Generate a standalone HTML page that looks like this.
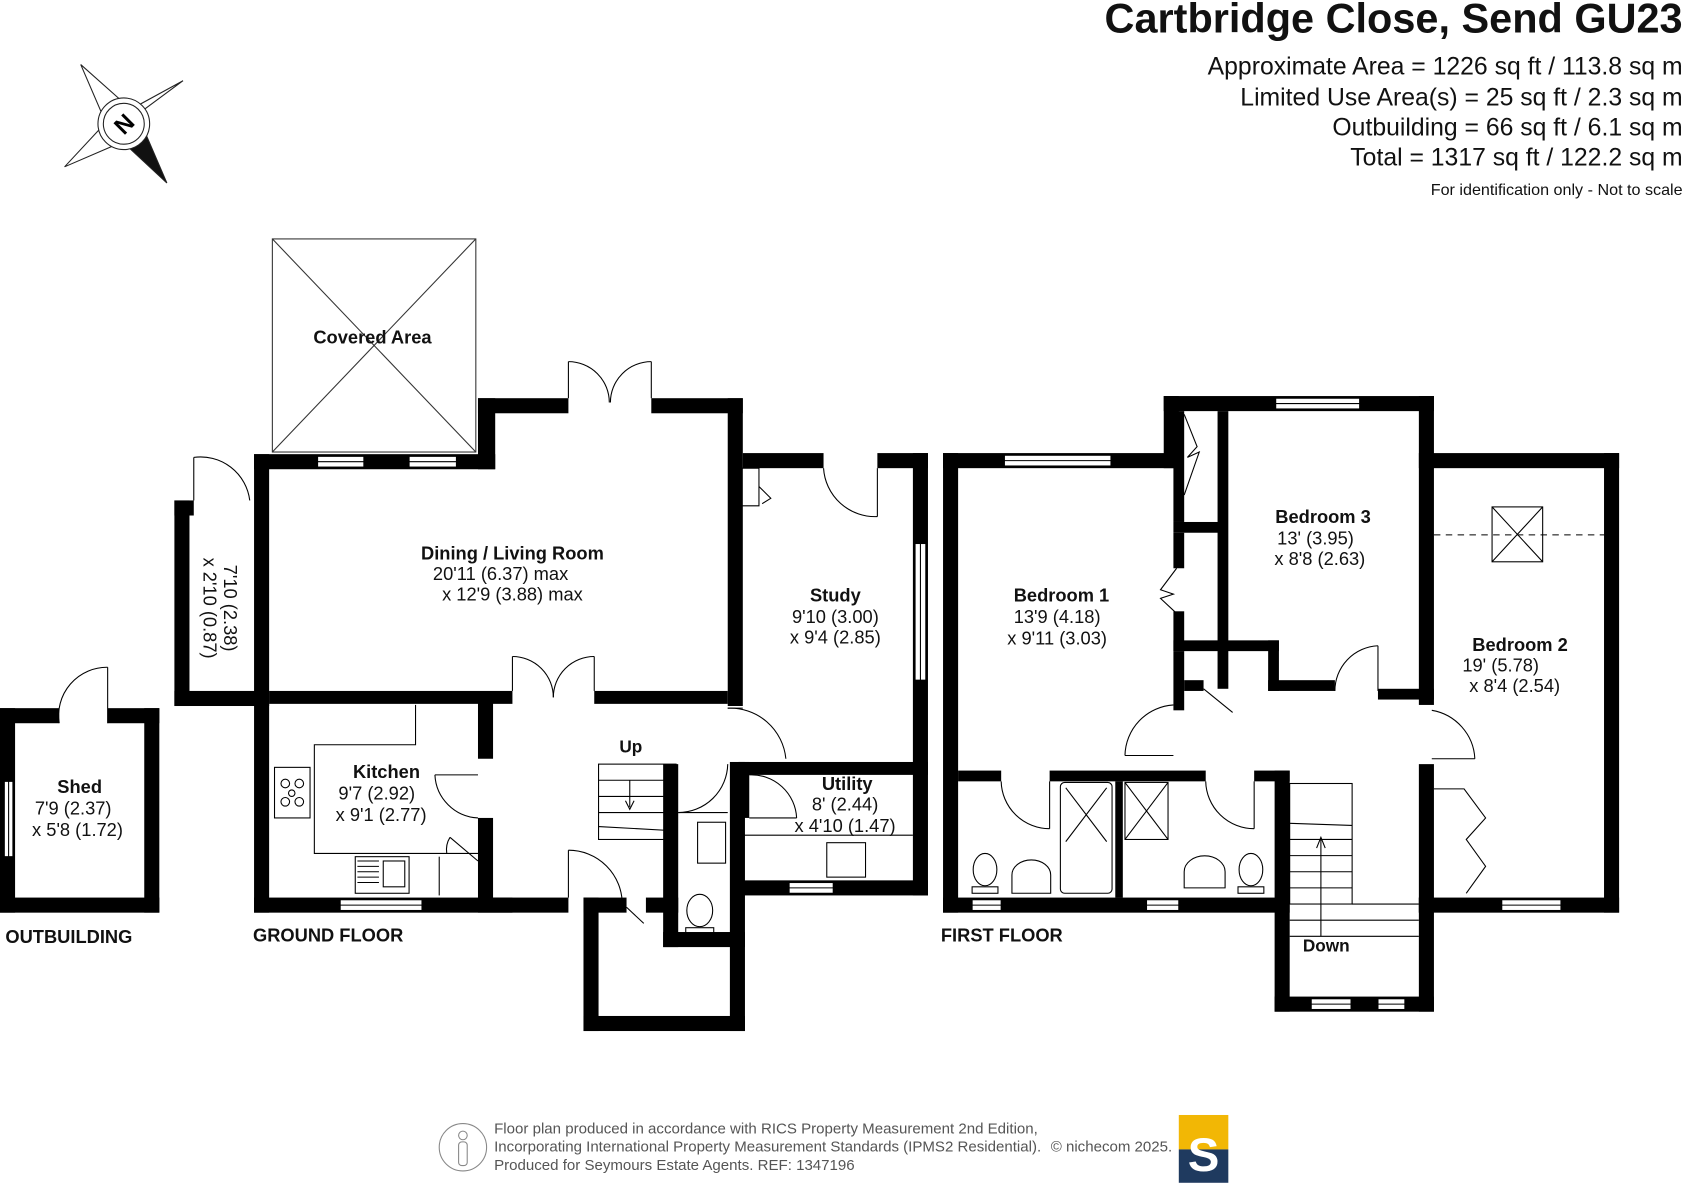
<!DOCTYPE html>
<html><head><meta charset="utf-8"><style>html,body{margin:0;padding:0;background:#fff}svg{display:block}text{font-family:"Liberation Sans",Arial,sans-serif}</style></head>
<body>
<svg width="1688" height="1200" viewBox="0 0 1568 1115" preserveAspectRatio="none" xmlns="http://www.w3.org/2000/svg">
<rect width="1568" height="1115" fill="#fff"/>
<g text-anchor="end" fill="#111">
<text x="1563" y="30" font-size="38.5" font-weight="bold">Cartbridge Close, Send GU23</text>
<text x="1563" y="69" font-size="23">Approximate Area = 1226 sq ft / 113.8 sq m</text>
<text x="1563" y="98" font-size="23">Limited Use Area(s) = 25 sq ft / 2.3 sq m</text>
<text x="1563" y="126" font-size="23">Outbuilding = 66 sq ft / 6.1 sq m</text>
<text x="1563" y="154" font-size="23">Total = 1317 sq ft / 122.2 sq m</text>
<text x="1563" y="181" font-size="15">For identification only - Not to scale</text>
</g>
<g stroke="#222" stroke-width="1" fill="#fff">
<polygon points="75,60 120,100 100,118"/>
<polygon points="170,75 128,98 112,118"/>
<polygon points="60,155 100,112 118,130"/>
<polygon points="155,170 130,112 112,130" fill="#111"/>
<circle cx="115" cy="115" r="24"/>
<circle cx="115" cy="115" r="19"/>
</g>
<text x="115" y="123" font-size="22" font-weight="bold" text-anchor="middle" transform="rotate(-45 115 115)">N</text>

<g stroke="#333" stroke-width="1" fill="none">
<rect x="253" y="222" width="189" height="198"/>
<line x1="253" y1="222" x2="442" y2="420"/><line x1="442" y1="222" x2="253" y2="420"/>
</g>

<g fill="#000">
<rect x="236" y="422" width="224" height="14"/>
<rect x="444" y="370" width="16" height="66"/>
<rect x="444" y="370" width="84" height="14"/>
<rect x="605" y="370" width="85" height="14"/>
<rect x="676" y="370" width="14" height="286"/>
<rect x="690" y="421" width="75" height="14"/>
<rect x="815" y="421" width="47" height="14"/>
<rect x="848" y="421" width="14" height="411"/>
<rect x="236" y="422" width="14" height="426"/>
<rect x="162" y="465" width="14" height="191"/>
<rect x="162" y="465" width="18" height="14"/>
<rect x="162" y="642" width="88" height="14"/>
<rect x="250" y="642" width="226" height="12"/>
<rect x="552" y="642" width="124" height="12"/>
<rect x="444" y="650" width="14" height="55"/>
<rect x="444" y="760" width="14" height="88"/>
<rect x="236" y="834" width="240" height="14"/>
<rect x="458" y="834" width="70" height="14"/>
<rect x="542" y="834" width="40" height="14"/>
<rect x="600" y="834" width="30" height="14"/>
<rect x="542" y="834" width="14" height="124"/>
<rect x="542" y="944" width="150" height="14"/>
<rect x="678" y="708" width="14" height="250"/>
<rect x="616" y="710" width="14" height="170"/>
<rect x="616" y="866" width="76" height="14"/>
<rect x="686" y="708" width="176" height="12"/>
<rect x="686" y="708" width="10" height="52"/>
<rect x="686" y="818" width="176" height="14"/>
<rect x="0" y="658" width="14" height="190"/>
<rect x="0" y="658" width="55" height="14"/>
<rect x="100" y="658" width="48" height="14"/>
<rect x="134" y="658" width="14" height="190"/>
<rect x="0" y="834" width="148" height="14"/>

<rect x="876" y="421" width="14" height="427"/>
<rect x="876" y="421" width="219" height="14"/>
<rect x="1081" y="368" width="14" height="67"/>
<rect x="1081" y="368" width="251" height="14"/>
<rect x="1318" y="368" width="14" height="287"/>
<rect x="1318" y="421" width="186" height="14"/>
<rect x="1490" y="421" width="14" height="427"/>
<rect x="1318" y="710" width="14" height="138"/>
<rect x="1318" y="834" width="186" height="14"/>
<rect x="1090" y="382" width="10" height="103"/>
<rect x="1090" y="485" width="50" height="10"/>
<rect x="1131" y="382" width="10" height="258"/>
<rect x="1090" y="495" width="10" height="33"/>
<rect x="1090" y="568" width="10" height="37"/>
<rect x="1090" y="595" width="98" height="10"/>
<rect x="1178" y="595" width="10" height="47"/>
<rect x="1178" y="632" width="62" height="10"/>
<rect x="1280" y="640" width="52" height="10"/>
<rect x="1090" y="605" width="10" height="55"/>
<rect x="1100" y="632" width="18" height="10"/>
<rect x="890" y="716" width="40" height="10"/>
<rect x="975" y="716" width="145" height="10"/>
<rect x="1165" y="716" width="33" height="10"/>
<rect x="1036" y="726" width="7" height="108"/>
<rect x="876" y="834" width="322" height="14"/>
<rect x="1184" y="716" width="14" height="224"/>
<rect x="1184" y="926" width="148" height="14"/>
<rect x="1318" y="834" width="14" height="106"/>
</g>

<g fill="#fff" stroke="#000" stroke-width="1">
<rect x="295" y="424" width="43" height="10"/><rect x="380" y="424" width="44" height="10"/>
<rect x="850" y="505" width="10" height="127"/>
<rect x="316" y="836" width="76" height="10"/>
<rect x="733" y="820" width="41" height="10"/>
<rect x="4" y="726" width="8" height="70"/>
<rect x="933" y="423" width="99" height="10"/>
<rect x="1185" y="370" width="78" height="10"/>
<rect x="1395" y="836" width="55" height="10"/>
<rect x="903" y="836" width="27" height="10"/><rect x="1065" y="836" width="30" height="10"/>
<rect x="1218" y="928" width="37" height="10"/><rect x="1280" y="928" width="25" height="10"/>
</g>
<g stroke="#000" stroke-width="1">
<line x1="295" y1="429" x2="338" y2="429"/><line x1="380" y1="429" x2="424" y2="429"/>
<line x1="855" y1="505" x2="855" y2="632"/><line x1="316" y1="841" x2="392" y2="841"/>
<line x1="733" y1="825" x2="774" y2="825"/><line x1="8" y1="726" x2="8" y2="796"/>
<line x1="933" y1="428" x2="1032" y2="428"/><line x1="1185" y1="375" x2="1263" y2="375"/>
<line x1="1395" y1="841" x2="1450" y2="841"/><line x1="903" y1="841" x2="930" y2="841"/>
<line x1="1065" y1="841" x2="1095" y2="841"/><line x1="1218" y1="933" x2="1255" y2="933"/>
<line x1="1280" y1="933" x2="1305" y2="933"/>
</g>

<g fill="none" stroke="#000" stroke-width="1">
<line x1="528" y1="336" x2="528" y2="370"/><path d="M528 336 A38 38 0 0 1 566 374"/>
<line x1="605" y1="336" x2="605" y2="370"/><path d="M605 336 A38 38 0 0 0 567 374"/>
<line x1="815" y1="435" x2="815" y2="480"/><path d="M765 435 A48 48 0 0 0 815 480"/>
<path d="M686 435 H705 V470 H686 M705 452 L716 463 L708 468"/>
<line x1="180" y1="425" x2="180" y2="465"/><path d="M180 425 A46 46 0 0 1 232 465"/>
<line x1="476" y1="610" x2="476" y2="642"/><path d="M476 610 A38 38 0 0 1 514 648"/>
<line x1="552" y1="610" x2="552" y2="642"/><path d="M552 610 A38 38 0 0 0 514 648"/>
<line x1="404" y1="720" x2="444" y2="720"/><path d="M404 720 A42 42 0 0 0 444 760"/>
<path d="M386 655 V692 H292 V793 H444"/>
<rect x="255" y="713" width="33" height="47"/><circle cx="265" cy="728" r="4"/><circle cx="278" cy="728" r="4"/><circle cx="265" cy="745" r="4"/><circle cx="278" cy="745" r="4"/><circle cx="271" cy="737" r="3"/>
<rect x="330" y="796" width="50" height="34"/><rect x="356" y="800" width="20" height="24"/>
<path d="M332 800 h20 M332 805 h20 M332 810 h20 M332 815 h20 M332 820 h20" />
<line x1="408" y1="796" x2="408" y2="832"/>
<path d="M418 778 L444 800 M418 778 A22 22 0 0 0 415 793"/>
<line x1="528" y1="790" x2="528" y2="834"/><path d="M528 790 A50 50 0 0 1 578 840"/>
<path d="M582 843 L598 858"/>
<rect x="556" y="710" width="72" height="70"/>
<path d="M556 725 H628 M556 740 H628 M556 755 H628 M556 768 L628 772"/>
<path d="M585 725 V750 M581 744 L585 752 L589 744"/>
<line x1="630" y1="755" x2="676" y2="755"/><path d="M630 755 A46 46 0 0 0 676 710"/>
<rect x="648" y="764" width="26" height="38"/>
<ellipse cx="650" cy="846" rx="12" ry="15"/><rect x="637" y="862" width="26" height="6"/>
<line x1="676" y1="658" x2="690" y2="658"/><path d="M676 658 A52 52 0 0 1 730 705"/>
<line x1="696" y1="760" x2="740" y2="760"/><path d="M696 720 A42 42 0 0 1 740 760"/>
<path d="M686 776 H848"/>
<rect x="768" y="783" width="36" height="32"/>
<line x1="100" y1="620" x2="100" y2="672"/><path d="M55 672 A45 45 0 0 1 100 620"/>
<path d="M1100 385 L1112 415 L1103 425 L1114 420 L1100 460"/>
<path d="M1093 528 L1078 548 L1090 552 L1078 556 L1093 570"/>
<line x1="1280" y1="600" x2="1280" y2="642"/><path d="M1240 642 A42 42 0 0 1 1280 600"/>
<path d="M1118 640 L1145 662"/>
<line x1="1045" y1="702" x2="1090" y2="702"/><path d="M1045 702 A48 48 0 0 1 1090 655"/>
<line x1="1330" y1="705" x2="1370" y2="705"/><path d="M1330 660 A48 48 0 0 1 1370 705"/>
<line x1="975" y1="726" x2="975" y2="770"/><path d="M930 726 A45 45 0 0 0 975 770"/>
<line x1="1165" y1="726" x2="1165" y2="770"/><path d="M1120 726 A45 45 0 0 0 1165 770"/>
<rect x="985" y="727" width="48" height="103" rx="4"/>
<path d="M990 732 L1028 782 M1028 732 L990 782"/>
<rect x="1045" y="727" width="40" height="53"/><path d="M1045 727 L1085 780 M1085 727 L1045 780"/>
<ellipse cx="915" cy="808" rx="11" ry="15"/><rect x="903" y="824" width="24" height="6"/>
<path d="M940 830 V813 A18 14 0 0 1 976 813 V830 Z"/>
<path d="M1100 825 V810 A18 14 0 0 1 1138 810 V825 Z"/>
<ellipse cx="1162" cy="808" rx="11" ry="15"/><rect x="1150" y="824" width="24" height="6"/>
<rect x="1198" y="728" width="58" height="112"/>
<path d="M1198 765 L1256 767 M1198 780 H1256 M1198 795 H1256 M1198 810 H1256 M1198 825 H1256"/>
<path d="M1256 840 H1318 M1198 855 H1318 M1198 870 H1318"/>
<path d="M1227 870 V780 M1223 788 L1227 778 L1231 788"/>
<rect x="1386" y="471" width="47" height="51"/><path d="M1386 471 L1433 522 M1433 471 L1386 522"/>
<line x1="1332" y1="497" x2="1490" y2="497" stroke-dasharray="6,5"/>
<path d="M1332 733 H1360 L1380 760 L1362 780 L1380 805 L1362 830"/>
<circle cx="430" cy="1066" r="22" stroke="#888"/>
<circle cx="430" cy="1055" r="4" stroke="#888"/><rect x="426" y="1061" width="8" height="22" rx="3" stroke="#888"/>
</g>

<g font-size="17" fill="#111" text-anchor="middle">
<text x="346" y="319" font-weight="bold">Covered Area</text>
<text x="476" y="520" font-weight="bold">Dining / Living Room</text>
<text x="465" y="539">20'11 (6.37) max</text>
<text x="476" y="558">x 12'9 (3.88) max</text>
<text x="776" y="559" font-weight="bold">Study</text>
<text x="776" y="579">9'10 (3.00)</text>
<text x="776" y="598">x 9'4 (2.85)</text>
<text x="359" y="723" font-weight="bold">Kitchen</text>
<text x="350" y="743">9'7 (2.92)</text>
<text x="354" y="763">x 9'1 (2.77)</text>
<text x="787" y="734" font-weight="bold">Utility</text>
<text x="785" y="753">8' (2.44)</text>
<text x="785" y="773">x 4'10 (1.47)</text>
<text x="74" y="737" font-weight="bold">Shed</text>
<text x="68" y="757">7'9 (2.37)</text>
<text x="72" y="777">x 5'8 (1.72)</text>
<text x="586" y="699" font-weight="bold" font-size="16">Up</text>
<text x="986" y="559" font-weight="bold">Bedroom 1</text>
<text x="982" y="579">13'9 (4.18)</text>
<text x="982" y="599">x 9'11 (3.03)</text>
<text x="1229" y="486" font-weight="bold">Bedroom 3</text>
<text x="1222" y="506">13' (3.95)</text>
<text x="1226" y="525">x 8'8 (2.63)</text>
<text x="1412" y="605" font-weight="bold">Bedroom 2</text>
<text x="1394" y="624">19' (5.78)</text>
<text x="1407" y="643">x 8'4 (2.54)</text>
<text x="1232" y="884" font-weight="bold" font-size="16">Down</text>
<g transform="translate(200 565) rotate(90)"><text x="0" y="-8">7'10 (2.38)</text><text x="0" y="11">x 2'10 (0.87)</text></g>
</g>
<g font-size="17" font-weight="bold" fill="#111">
<text x="5" y="876">OUTBUILDING</text>
<text x="235" y="875">GROUND FLOOR</text>
<text x="874" y="875">FIRST FLOOR</text>
</g>
<g font-size="14" fill="#555">
<text x="459" y="1053">Floor plan produced in accordance with RICS Property Measurement 2nd Edition,</text>
<text x="459" y="1070">Incorporating International Property Measurement Standards (IPMS2 Residential).</text>
<text x="459" y="1087">Produced for Seymours Estate Agents.   REF: 1347196</text>
<text x="976" y="1070">© nichecom 2025.</text>
</g>
<rect x="1095" y="1036" width="46" height="32" fill="#f2b705"/>
<rect x="1095" y="1068" width="46" height="31" fill="#1f3a5f"/>
<text x="1118" y="1088" font-size="44" font-weight="bold" fill="#fff" text-anchor="middle">S</text>
</svg>
</body></html>
